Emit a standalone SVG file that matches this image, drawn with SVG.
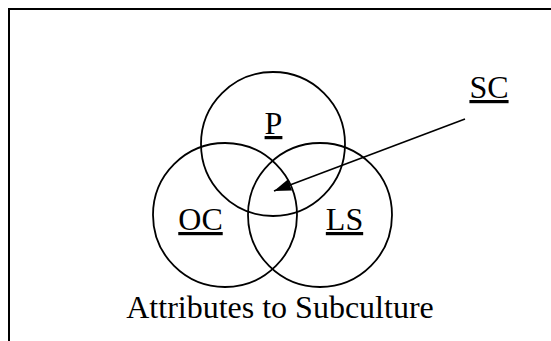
<svg xmlns="http://www.w3.org/2000/svg" width="551" height="341" viewBox="0 0 551 341">
  <style>
    .ring { fill: none; stroke: #000; stroke-width: 1.8; }
    .lbl { font-family: "Liberation Serif", "Times New Roman", serif; font-size: 32px; fill: #000; text-anchor: middle; }
    .u { text-decoration: underline; }
    .frame { stroke: #000; stroke-width: 2; fill: none; }
    .conn { stroke: #000; stroke-width: 1.6; fill: none; }
  </style>
  <defs>
    <marker id="arrow" markerUnits="userSpaceOnUse" markerWidth="18" markerHeight="14" refX="17" refY="6" orient="auto">
      <path d="M0,0 L17,6 L0,12 Z" fill="#000"/>
    </marker>
  </defs>
  <rect width="551" height="341" fill="#fff"/>
  <g id="frame">
    <path class="frame" d="M9,341 L9,9 L551,9"/>
  </g>
  <g id="node-P">
    <circle class="ring" cx="273" cy="144" r="72"/>
    <text class="lbl u" x="273.5" y="134">P</text>
  </g>
  <g id="node-OC">
    <circle class="ring" cx="225" cy="215" r="72"/>
    <text class="lbl u" x="200.5" y="230">OC</text>
  </g>
  <g id="node-LS">
    <circle class="ring" cx="320" cy="215" r="72"/>
    <text class="lbl u" x="344.5" y="230">LS</text>
  </g>
  <g id="node-SC">
    <text class="lbl u" x="489" y="98">SC</text>
  </g>
  <g id="caption">
    <text class="lbl" x="280" y="318">Attributes to Subculture</text>
  </g>
  <g id="connectors">
    <line class="conn" x1="465" y1="119" x2="274" y2="191" marker-end="url(#arrow)"/>
  </g>
</svg>
